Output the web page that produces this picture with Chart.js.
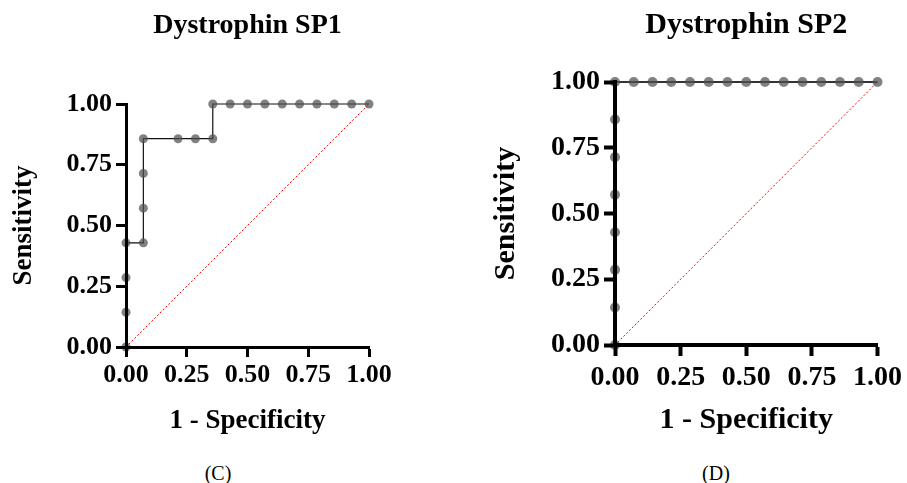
<!DOCTYPE html>
<html>
<head>
<meta charset="utf-8">
<title>Dystrophin SP1 / SP2 - ROC</title>
<script src="https://cdn.jsdelivr.net/npm/chart.js@4.4.1/dist/chart.umd.min.js"></script>
<style>
    html, body { margin: 0; padding: 0; background: #fff; overflow: hidden; }
    body { width: 907px; height: 483px; position: relative; }
    canvas { position: absolute; top: 0; }
    #chartSP1 { left: 0; }
    #chartSP2 { left: 454px; }
    .panel {
        position: absolute;
        font-family: 'Liberation Serif', 'Times New Roman', serif;
        font-size: 20px;
        color: #000;
        transform: translate(-50%, -50%);
        white-space: nowrap;
    }
</style>
</head>
<body>
<canvas id="chartSP1" width="453" height="453"></canvas>
<canvas id="chartSP2" width="453" height="453"></canvas>
<div class="panel" style="left:218px; top:473px;">(C)</div>
<div class="panel" style="left:716px; top:473px;">(D)</div>

<script>
// Data (1 - specificity, sensitivity)
const sp1Fpr = [0, 0, 0, 0, 0.0714, 0.0714, 0.0714, 0.0714, 0.2143, 0.2857, 0.3571,
                0.3571, 0.4286, 0.5, 0.5714, 0.6429, 0.7143, 0.7857, 0.8571, 0.9286, 1];
const sp1Tpr = [0, 0.1429, 0.2857, 0.4286, 0.4286, 0.5714, 0.7143, 0.8571, 0.8571, 0.8571, 0.8571,
                1, 1, 1, 1, 1, 1, 1, 1, 1, 1];

const sp2Fpr = [0, 0, 0, 0, 0, 0, 0, 0, 0.0714, 0.1429, 0.2143, 0.2857, 0.3571, 0.4286,
                0.5, 0.5714, 0.6429, 0.7143, 0.7857, 0.8571, 0.9286, 1];
const sp2Tpr = [0, 0.1429, 0.2857, 0.4286, 0.5714, 0.7143, 0.8571, 1, 1, 1, 1, 1, 1, 1,
                1, 1, 1, 1, 1, 1, 1, 1];

// Reference line (chance)
const refX = [0, 1];
const refY = [0, 1];

const axisTicks = [0, 0.25, 0.5, 0.75, 1];
const fonte = "'Liberation Serif', 'Times New Roman', serif";

function toPoints(xs, ys) {
    return xs.map((x, i) => ({ x: x, y: ys[i] }));
}

function criarGraficoRoc(canvasId, titulo, fpr, tpr, lay) {
    const ctx = document.getElementById(canvasId).getContext('2d');

    return new Chart(ctx, {
        type: 'scatter',
        data: {
            datasets: [
                {
                    label: titulo,
                    data: toPoints(fpr, tpr),
                    showLine: true,
                    borderColor: lay.lineColor,
                    borderWidth: lay.lineWidth,
                    pointRadius: lay.pointRadius,
                    pointHoverRadius: lay.pointRadius,
                    pointBackgroundColor: 'rgba(80, 80, 80, 0.72)',
                    pointBorderWidth: 0,
                    clip: false
                },
                {
                    label: 'Reference',
                    data: toPoints(refX, refY),
                    showLine: true,
                    borderColor: '#ff0000',
                    borderWidth: 1,
                    borderDash: [2, 2],
                    pointRadius: 0,
                    clip: false
                }
            ]
        },
        options: {
            responsive: false,
            animation: false,
            events: [],
            layout: {
                padding: { left: 0, top: 0, right: lay.padRight, bottom: 0 }
            },
            plugins: {
                legend: { display: false },
                tooltip: { enabled: false },
                title: {
                    display: true,
                    text: titulo,
                    fullSize: false,
                    color: '#000',
                    font: { family: fonte, size: lay.titleSize, weight: 'bold' },
                    padding: { top: lay.titlePadTop, bottom: lay.titlePadBottom }
                }
            },
            scales: {
                x: {
                    type: 'linear',
                    min: 0,
                    max: 1,
                    afterFit: (scale) => { scale.height = lay.xHeight; },
                    afterBuildTicks: (scale) => { scale.ticks = axisTicks.map(v => ({ value: v })); },
                    border: { display: true, color: '#000', width: lay.axisWidth, z: 1 },
                    grid: {
                        drawOnChartArea: false,
                        drawTicks: true,
                        tickLength: lay.tickLength,
                        tickWidth: lay.axisWidth,
                        tickColor: '#000',
                        z: 1
                    },
                    ticks: {
                        padding: lay.xTickPad,
                        color: '#000',
                        maxRotation: 0,
                        autoSkip: false,
                        font: { family: fonte, size: lay.tickSize, weight: 'bold' },
                        callback: (v) => Number(v).toFixed(2)
                    },
                    title: {
                        display: true,
                        text: '1 - Specificity',
                        color: '#000',
                        font: { family: fonte, size: lay.axisTitleSize, weight: 'bold' },
                        padding: { top: 0, bottom: lay.xTitlePad }
                    }
                },
                y: {
                    type: 'linear',
                    min: 0,
                    max: 1,
                    afterFit: (scale) => { scale.width = lay.yWidth; },
                    afterBuildTicks: (scale) => { scale.ticks = axisTicks.map(v => ({ value: v })); },
                    border: { display: true, color: '#000', width: lay.axisWidth, z: 1 },
                    grid: {
                        drawOnChartArea: false,
                        drawTicks: true,
                        tickLength: lay.tickLength,
                        tickWidth: lay.axisWidth,
                        tickColor: '#000',
                        z: 1
                    },
                    ticks: {
                        padding: lay.yTickPad,
                        color: '#000',
                        autoSkip: false,
                        font: { family: fonte, size: lay.tickSize, weight: 'bold' },
                        callback: (v) => Number(v).toFixed(2)
                    },
                    title: {
                        display: true,
                        text: 'Sensitivity',
                        color: '#000',
                        font: { family: fonte, size: lay.axisTitleSize, weight: 'bold' },
                        padding: { top: lay.yTitlePad, bottom: 0 }
                    }
                }
            }
        }
    });
}

// Panel C
criarGraficoRoc('chartSP1', 'Dystrophin SP1', sp1Fpr, sp1Tpr, {
    padRight: 84, yWidth: 126, xHeight: 106,
    titleSize: 28, titlePadTop: 9, titlePadBottom: 61.4,
    tickSize: 26, axisTitleSize: 27,
    tickLength: 10, xTickPad: 3, yTickPad: 4,
    xTitlePad: 16, yTitlePad: 8,
    axisWidth: 3, lineWidth: 1.2, lineColor: '#111', pointRadius: 4.5
});

// Panel D
criarGraficoRoc('chartSP2', 'Dystrophin SP2', sp2Fpr, sp2Tpr, {
    padRight: 28, yWidth: 161, xHeight: 108,
    titleSize: 30, titlePadTop: 7, titlePadBottom: 39,
    tickSize: 28, axisTitleSize: 30,
    tickLength: 11, xTickPad: 5, yTickPad: 4,
    xTitlePad: 15, yTitlePad: 34,
    axisWidth: 4, lineWidth: 2, lineColor: '#333', pointRadius: 5
});
</script>
</body>
</html>
